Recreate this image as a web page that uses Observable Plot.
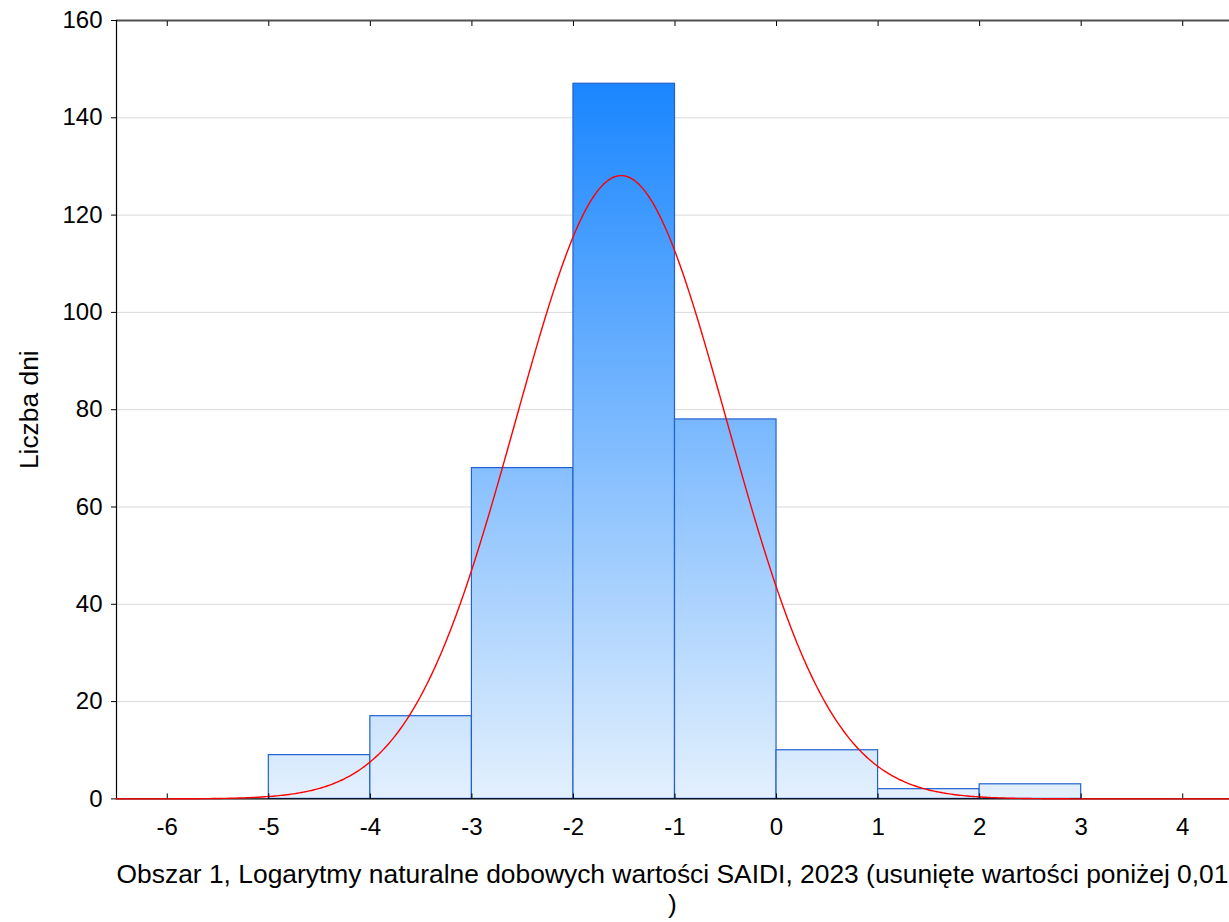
<!DOCTYPE html>
<html><head><meta charset="utf-8">
<script src="https://cdn.jsdelivr.net/npm/d3@7"></script>
<script src="https://cdn.jsdelivr.net/npm/@observablehq/plot@0.6"></script>
<style>html,body{margin:0;padding:0;background:#fff;overflow:hidden}</style>
</head><body><div id="chart"></div>
<script>
// ---- data ----
const binStarts = [-5, -4, -3, -2, -1, 0, 1, 2];
const binEnds   = [-4, -3, -2, -1, 0, 1, 2, 3];
const counts    = [9, 17, 68, 147, 78, 10, 2, 3];
const xTicks = [-6, -5, -4, -3, -2, -1, 0, 1, 2, 3, 4];
const yTicks = [0, 20, 40, 60, 80, 100, 120, 140, 160];
const xDomain = [-6.5, 4.5];
const yDomain = [0, 160];
// fitted normal curve parameters (expected count per bin)
const fitMean = -1.53;
const fitSd = 1.04;
const xLabelLines = ["Obszar 1, Logarytmy naturalne dobowych wartości SAIDI, 2023 (usunięte wartości poniżej 0,01", ")"];
const yLabel = "Liczba dni";

const bins = binStarts.map((s, i) => ({x1: s, x2: binEnds[i], count: counts[i]}));
const binWidth = binEnds[0] - binStarts[0];
const total = d3.sum(counts) * binWidth;
const curve = d3.range(xDomain[0], xDomain[1] + 1e-9, 0.02).map(x => ({
  x, y: total / (fitSd * Math.sqrt(2 * Math.PI)) * Math.exp(-0.5 * ((x - fitMean) / fitSd) ** 2)
}));

const font = "Liberation Sans, Arial, sans-serif";
const plot = Plot.plot({
  width: 1229,
  height: 922,
  marginLeft: 116,
  marginRight: -4,
  marginTop: 20,
  marginBottom: 123.6,
  style: {fontFamily: font, fontSize: "24px", background: "#fff", overflow: "hidden"},
  x: {domain: xDomain},
  y: {domain: yDomain},
  marks: [
    Plot.gridY(yTicks.filter(d => d > yDomain[0] && d < yDomain[1]), {stroke: "#d9d9d9", strokeOpacity: 1}),
    Plot.rectY(bins, {x1: "x1", x2: "x2", y: "count", fill: "url(#barGrad)", stroke: "#2262d0", strokeWidth: 1.2}),
    Plot.ruleY([yDomain[0]], {stroke: "#000", strokeWidth: 1.2}),
    Plot.ruleY([yDomain[1]], {stroke: "#505050", strokeWidth: 2}),
    Plot.ruleX([xDomain[0]], {stroke: "#000", strokeWidth: 1.2}),
    Plot.ruleX([xDomain[1]], {stroke: "#000", strokeWidth: 1.2}),
    Plot.line(curve, {x: "x", y: "y", stroke: "#ff0000", strokeWidth: 1.4}),
    Plot.axisY(yTicks, {anchor: "left", tickSize: 5, tickPadding: 9, fontSize: 24, label: null, tickFormat: d => String(d)}),
    Plot.axisY(yTicks, {anchor: "right", tickSize: -5, tickFormat: () => "", label: null}),
    Plot.axisX(xTicks, {anchor: "bottom", tickSize: -5, tickPadding: 24, fontSize: 24, label: null, tickFormat: d => String(d)}),
    Plot.axisX(xTicks, {anchor: "top", tickSize: -5, tickFormat: () => "", label: null}),
    Plot.text([xLabelLines.join("\n")], {frameAnchor: "bottom", lineAnchor: "bottom", lineHeight: 1.12, dy: 114, dx: -2.5, fontSize: 26.4, fill: "#000"}),
    Plot.text([yLabel], {frameAnchor: "left", textAnchor: "middle", rotate: -90, lineAnchor: "bottom", dx: -79, fontSize: 26.4, fill: "#000"})
  ]
});

const yScale = plot.scale("y");
const defs = d3.select(plot).insert("defs", ":first-child");
const grad = defs.append("linearGradient").attr("id", "barGrad")
  .attr("gradientUnits", "userSpaceOnUse")
  .attr("x1", 0).attr("x2", 0)
  .attr("y1", yScale.apply(d3.max(counts))).attr("y2", yScale.apply(0));
grad.append("stop").attr("offset", "0%").attr("stop-color", "#1a86ff");
grad.append("stop").attr("offset", "100%").attr("stop-color", "#e3f0fd");

document.getElementById("chart").appendChild(plot);
</script>
</body></html>
